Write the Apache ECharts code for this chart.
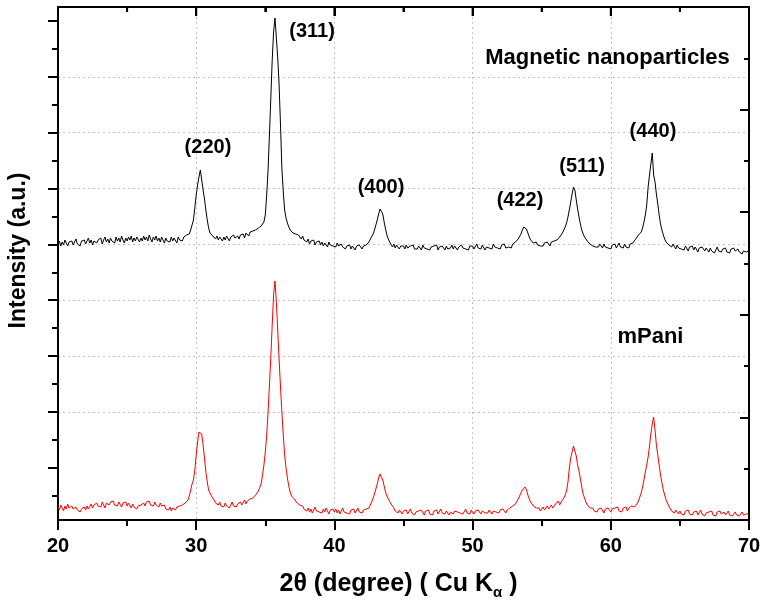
<!DOCTYPE html>
<html><head><meta charset="utf-8">
<script src="https://cdn.jsdelivr.net/npm/echarts@6/dist/echarts.min.js"></script>
<style>html,body{margin:0;padding:0;background:#fff}#c{width:761px;height:602px}</style>
</head><body><div id="c"></div>
<script>
// 2θ sampling of the scans (degrees)
const xStart = 20, xStep = 0.1;
// Magnetic nanoparticles (black), intensity a.u., one row per degree (x.0 .. x.9)
const magnetic = [
276,279,274,278,275,280,277,274,278,276,
279,275,277,281,276,278,274,279,277,280,
276,279,282,277,280,275,279,281,277,280,
278,282,276,280,283,278,281,277,282,279,
281,277,283,279,282,278,284,280,277,282,
279,283,280,284,278,282,279,283,281,278,
282,279,284,280,283,279,285,281,278,283,
280,284,279,282,278,283,280,277,282,279,
281,278,283,279,282,280,277,283,280,282,
279,283,281,285,283,286,290,295,300,312,
325,335,343,350,340,330,321,310,300,292,
287,285,284,283,281,284,280,283,282,279,
283,280,284,282,279,283,281,285,282,280,
284,281,285,283,286,282,287,285,284,288,
286,289,287,290,289,292,291,294,296,298,
305,325,350,385,422,460,488,502,482,462,
435,395,352,328,310,302,297,293,290,288,
287,285,286,284,285,283,281,284,280,282,
278,281,276,279,277,280,275,278,276,279,
275,278,274,277,276,273,278,275,277,274,
276,273,277,274,272,276,273,275,271,274,
272,275,271,274,273,270,274,272,275,273,
271,274,272,275,276,278,281,283,286,290,
295,300,306,311,313,306,298,291,285,281,
278,276,273,276,272,275,273,271,274,272,
274,271,275,272,270,274,272,275,271,273,
271,274,272,270,275,272,274,271,273,270,
273,271,274,272,275,270,273,271,274,272,
270,274,271,273,272,275,271,274,272,270,
273,271,275,272,274,271,273,270,274,272,
274,271,273,276,272,274,271,275,273,270,
273,275,272,274,271,276,273,275,272,274,
271,275,273,276,272,274,273,275,272,276,
277,278,279,281,283,286,290,293,294,291,
287,283,280,279,277,276,278,275,277,274,
276,274,277,275,278,276,274,278,276,279,
279,280,282,283,285,287,290,293,297,303,
310,318,326,333,330,320,311,303,296,290,
286,283,281,279,277,276,278,274,276,273,
275,273,276,274,272,276,273,275,272,274,
271,275,273,276,272,274,277,273,275,272,
276,273,275,272,276,274,277,279,281,283,
285,286,288,292,298,305,315,333,345,356,
367,345,338,326,316,305,296,290,285,281,
278,277,275,277,273,276,274,271,275,272,
274,271,273,270,274,272,269,273,271,274,
270,273,271,268,272,270,273,271,269,272,
270,268,272,269,271,267,270,273,269,271,
268,271,269,272,268,270,267,271,269,272,
269,267,271,268,270,266,269,271,268,270,
269
];
// mPani (red)
const mpani = [
13,10,15,12,9,14,11,16,12,10,
14,11,9,13,10,12,8,11,9,13,
10,14,11,13,16,12,15,13,17,14,
16,13,18,15,12,17,19,15,18,16,
19,15,17,14,18,16,13,17,15,18,
14,17,15,12,16,13,15,11,14,12,
15,13,17,14,18,16,19,15,17,14,
18,15,16,13,17,14,12,15,11,13,
10,13,9,12,14,10,13,11,14,12,
15,13,17,16,20,24,30,36,40,50,
65,78,88,90,86,75,62,48,38,30,
27,24,22,20,17,19,15,18,14,16,
13,17,14,16,12,15,18,14,16,13,
16,14,18,15,17,20,16,19,18,21,
20,22,23,25,27,29,31,36,45,55,
68,85,108,135,163,195,225,239,218,190,
160,133,108,85,65,52,42,34,28,24,
24,21,19,17,16,15,13,14,11,12,
9,12,8,11,7,10,13,9,11,8,
10,7,11,8,12,9,6,10,8,11,
8,11,7,10,6,9,12,8,10,7,
9,6,10,8,11,7,9,12,8,10,
7,10,8,11,9,12,15,18,22,26,
31,36,42,46,47,40,34,28,24,21,
19,16,14,12,9,11,7,10,8,6,
9,7,10,6,8,11,7,9,5,8,
6,9,7,10,8,5,9,7,10,6,
8,5,9,7,10,6,8,11,7,9,
6,9,7,5,8,10,6,9,7,8,
10,7,9,6,8,11,7,9,6,10,
8,6,9,7,10,8,6,9,11,7,
9,7,10,8,6,9,11,8,10,7,
10,8,11,9,7,10,8,12,13,14,
15,16,18,21,24,27,30,32,33,30,
25,21,18,16,14,13,12,10,12,9,
11,13,10,12,14,11,13,15,12,14,
16,17,19,15,18,20,22,25,29,38,
52,62,68,74,72,64,55,49,41,33,
26,22,18,15,13,12,10,12,9,11,
8,11,9,12,10,7,11,9,12,10,
8,11,9,12,10,13,9,11,8,12,
10,13,9,12,11,14,12,13,14,16,
19,23,27,33,40,48,55,63,74,86,
96,103,90,75,65,55,45,37,30,25,
20,17,14,12,9,11,7,10,8,6,
9,6,8,5,9,7,10,6,8,5,
8,6,9,5,7,10,6,8,4,7,
5,8,6,9,5,7,4,8,6,9,
6,4,8,5,7,9,5,7,4,6,
8,5,7,4,6,8,5,7,6,4,
6
];
// x axis ticks
const xTickLabels = [20, 30, 40, 50, 60, 70];
// top frame tick values (unlabelled)
const topMajorTicks = [30, 40, 50, 60];
const topMinorTicks = [25, 35, 45, 55, 65];
// left axis tick values (unlabelled)
const leftTicks = [0, 1, 2, 3, 4, 5, 6, 7, 8];
// annotations: text, 2θ, intensity
const peakNames = ['(220)', '(311)', '(400)', '(422)', '(511)', '(440)'];
const peakLabelX = [30.85, 38.38, 43.37, 53.43, 57.92, 63.05];
const peakLabelY = [373, 489, 333, 320, 354, 389];
const sampleNames = ['Magnetic nanoparticles', 'mPani'];
const sampleLabelX = [59.76, 62.87];
const sampleLabelY = [462, 183];

const FONT = "'Liberation Sans', Arial, Helvetica, sans-serif";
const toPairs = vals => vals.map((v, i) => [+(xStart + i * xStep).toFixed(2), v]);
const xMin = xTickLabels[0], xMax = xTickLabels[xTickLabels.length - 1];
const yDataMax = 513;

const chart = echarts.init(document.getElementById('c'), null, {renderer: 'canvas'});
const axisLine = () => ({show: true, onZero: false, lineStyle: {color: '#000', width: 2}});
const tickStyle = () => ({width: 2, color: '#000'});
const gridLine = {type: [2, 3], color: '#c4c4c4', width: 1};
const labelStyle = {color: '#000', fontWeight: 'bold', fontFamily: FONT, textBorderWidth: 0, textShadowBlur: 0};
const rect = () => ({left: 58, right: 12, top: 7, bottom: 82, containLabel: false, outerBoundsMode: 'none'});

chart.setOption({
  animation: false,
  backgroundColor: '#fff',
  grid: [rect(), rect()],
  xAxis: [{
    type: 'value', position: 'bottom', gridIndex: 0, min: xMin, max: xMax, interval: 10,
    axisLine: axisLine(),
    axisTick: {show: true, inside: false, length: 10, lineStyle: tickStyle()},
    minorTick: {show: true, splitNumber: 2, length: 6, lineStyle: tickStyle()},
    axisLabel: {color: '#000', fontSize: 20, fontWeight: 'bold', fontFamily: FONT, margin: 16},
    splitLine: {show: true, showMinLine: false, showMaxLine: false, lineStyle: gridLine},
    name: '2θ (degree) ( Cu K{sub|α} )', nameLocation: 'middle', nameGap: 49,
    nameTextStyle: {color: '#000', fontSize: 25, fontWeight: 'bold', fontFamily: FONT, padding: [0, 10, 0, 0],
      rich: {sub: {fontSize: 15, fontWeight: 'bold', fontFamily: FONT, color: '#000', padding: [16, 0, 0, 0]}}}
  }, {
    type: 'value', position: 'top', gridIndex: 1, min: xMin, max: xMax, interval: 10, z: 6,
    axisLine: axisLine(),
    axisTick: {show: true, inside: true, length: 9, lineStyle: tickStyle()},
    minorTick: {show: true, splitNumber: 2, length: 5, lineStyle: tickStyle()},
    axisLabel: {show: false}, splitLine: {show: false}
  }],
  yAxis: [{
    type: 'value', position: 'left', gridIndex: 0, min: -0.937, max: 8.251, splitNumber: 9,
    axisLine: axisLine(),
    axisTick: {show: true, inside: false, length: 10, customValues: leftTicks, lineStyle: tickStyle()},
    minorTick: {show: true, splitNumber: 2, length: 6, lineStyle: tickStyle()},
    axisLabel: {show: false},
    splitLine: {show: true, showMinLine: false, showMaxLine: false, lineStyle: gridLine},
    name: 'Intensity (a.u.)', nameLocation: 'middle', nameGap: 28, nameRotate: 90,
    nameTextStyle: {color: '#000', fontSize: 23, fontWeight: 'bold', fontFamily: FONT, padding: [0, 0, 0, 26]}
  }, {
    type: 'value', position: 'right', gridIndex: 0, min: 0, max: 5, interval: 1, z: 6,
    axisLine: axisLine(),
    axisTick: {show: true, inside: true, length: 9, lineStyle: tickStyle()},
    minorTick: {show: true, splitNumber: 2, length: 5, lineStyle: tickStyle()},
    axisLabel: {show: false}, splitLine: {show: false}
  }, {
    type: 'value', show: false, gridIndex: 0, min: 0, max: yDataMax
  }, {
    type: 'value', show: false, gridIndex: 1, min: 0, max: 1
  }],
  series: [{
    name: 'Magnetic nanoparticles', type: 'line', yAxisIndex: 2, xAxisIndex: 0,
    data: toPairs(magnetic), showSymbol: false, symbol: 'none',
    lineStyle: {color: '#000', width: 1}, z: 3
  }, {
    name: 'mPani', type: 'line', yAxisIndex: 2, xAxisIndex: 0,
    data: toPairs(mpani), showSymbol: false, symbol: 'none',
    lineStyle: {color: '#ff0000', width: 1}, z: 3
  }, {
    type: 'scatter', yAxisIndex: 2, xAxisIndex: 0, symbolSize: 1, silent: true,
    itemStyle: {color: 'rgba(0,0,0,0)', opacity: 1},
    data: peakNames.map((n, i) => [peakLabelX[i], peakLabelY[i], n]),
    label: Object.assign({show: true, position: 'inside', formatter: p => p.data[2], fontSize: 20}, labelStyle)
  }, {
    type: 'scatter', yAxisIndex: 2, xAxisIndex: 0, symbolSize: 1, silent: true,
    itemStyle: {color: 'rgba(0,0,0,0)', opacity: 1},
    data: sampleNames.map((n, i) => [sampleLabelX[i], sampleLabelY[i], n]),
    label: Object.assign({show: true, position: 'inside', formatter: p => p.data[2], fontSize: 22}, labelStyle)
  }]
});

// inward ticks on the top frame, placed through the chart's own x scale
const topTick = (v, len) => {
  const p = chart.convertToPixel({xAxisIndex: 0, yAxisIndex: 2}, [v, yDataMax]);
  return {type: 'line', silent: true, z: 100,
    shape: {x1: p[0], y1: p[1], x2: p[0], y2: p[1] + len},
    style: {stroke: '#000', lineWidth: 2}};
};
chart.setOption({graphic: [
  ...topMajorTicks.map(v => topTick(v, 9)),
  ...topMinorTicks.map(v => topTick(v, 5))
]});
</script></body></html>
